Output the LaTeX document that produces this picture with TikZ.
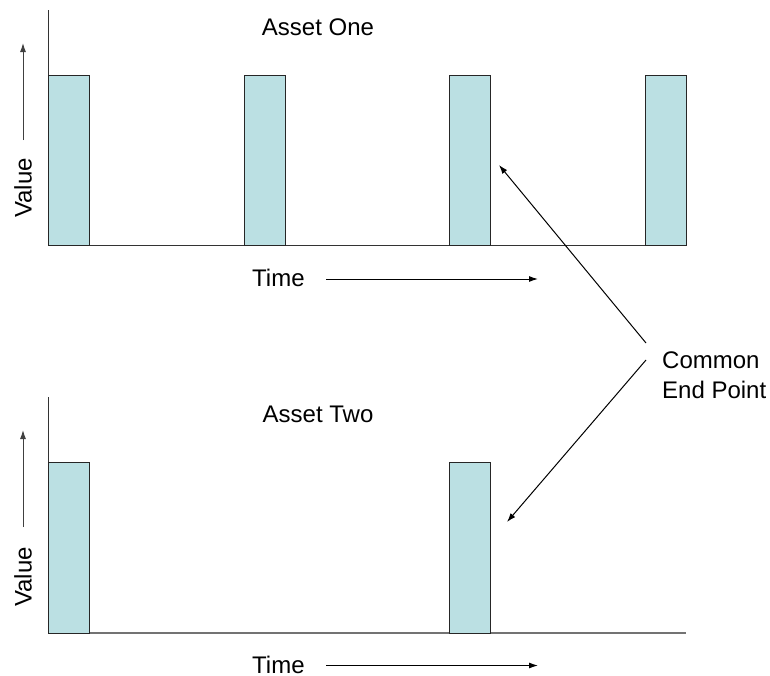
\documentclass[tikz,border=0pt]{standalone}
\usepackage{fontspec}
\setmainfont{Liberation Sans}
\usetikzlibrary{arrows.meta}
\begin{document}
\begin{tikzpicture}[x=1pt,y=-1pt,
  bar/.style={draw=black!85,line width=1pt,fill={rgb,255:red,187;green,224;blue,227},minimum width=41pt,minimum height=170pt,inner sep=0pt,outer sep=0pt,anchor=south west},
  axis/.style={line width=1pt,draw=black!80},
  arr/.style={line width=1pt,-{Latex[length=9pt,width=6pt]}},
  lbl/.style={font=\fontsize{24}{30}\selectfont,inner sep=0pt}]
\useasboundingbox (0,0) rectangle (770,675);
% top chart
\draw[axis] (48,10) -- (48,245.5) -- (686,245.5);
\node[bar] (a1) at (48,245.5) {};
\node[bar] (a2) at (244,245.5) {};
\node[bar] (a3) at (449,245.5) {};
\node[bar] (a4) at (645,245.5) {};
\node[lbl] (t1) at (318,27) {Asset One};
\node[lbl,rotate=90] (v1) at (23,188) {Value};
\coordinate (v1a) at (23,140);
\coordinate (v1b) at (23,43);
\draw[arr,draw=black!75] (v1a) -- (v1b);
\node[lbl,anchor=west] (x1) at (252,278) {Time};
\coordinate (x1a) at (326,279);
\coordinate (x1b) at (538,279);
\draw[arr] (x1a) -- (x1b);
% bottom chart
\draw[axis] (48,397) -- (48,633);
\draw[line width=1.2pt,draw=black!55] (48,633) -- (686,633);
\node[bar,minimum height=171pt] (b1) at (48,633) {};
\node[bar,minimum height=171pt] (b2) at (449,633) {};
\node[lbl] (t2) at (318,414) {Asset Two};
\node[lbl,rotate=90] (v2) at (23,577) {Value};
\coordinate (v2a) at (23,527);
\coordinate (v2b) at (23,430);
\draw[arr,draw=black!75] (v2a) -- (v2b);
\node[lbl,anchor=west] (x2) at (252,665) {Time};
\coordinate (x2a) at (326,665.5);
\coordinate (x2b) at (538,665.5);
\draw[arr] (x2a) -- (x2b);
% common end point
\node[lbl,align=left,anchor=west] (cep) at (662,375) {Common\\End Point};
\coordinate (c1) at (646,343);
\coordinate (c2) at (646,360);
\coordinate (e1) at (499,165);
\coordinate (e2) at (507,522);
\draw[arr] (c1) -- (e1);
\draw[arr] (c2) -- (e2);
\end{tikzpicture}
\end{document}
